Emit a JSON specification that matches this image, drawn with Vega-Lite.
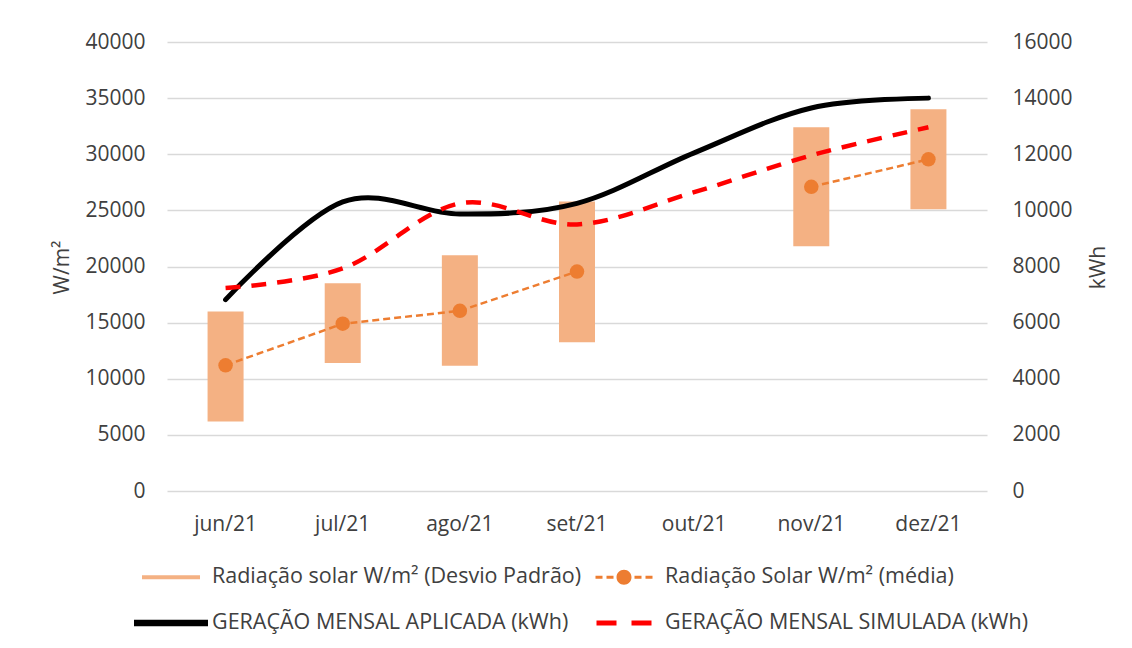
{
  "$schema": "https://vega.github.io/schema/vega-lite/v6.json",
  "autosize": "none",
  "width": 820,
  "height": 449,
  "padding": {"left": 167, "top": 42, "right": 145, "bottom": 157},
  "background": "white",
  "config": {
    "view": {"stroke": null},
    "font": "Open Sans",
    "axis": {"labelFont": "Open Sans", "titleFont": "Open Sans", "labelColor": "#404040", "titleColor": "#404040", "titleFontWeight": "normal", "domain": false, "ticks": false}
  },
  "data": {
    "values": [
      {"month": "jun/21", "lo": 6200, "hi": 16000, "media": 11200, "aplicada": 6820, "simulada": 7230},
      {"month": "jul/21", "lo": 11400, "hi": 18500, "media": 14900, "aplicada": 10300, "simulada": 7930},
      {"month": "ago/21", "lo": 11150, "hi": 21000, "media": 16050, "aplicada": 9870, "simulada": 10250},
      {"month": "set/21", "lo": 13250, "hi": 25800, "media": 19550, "aplicada": 10250, "simulada": 9500},
      {"month": "out/21", "lo": null, "hi": null, "media": null, "aplicada": 12050, "simulada": 10650},
      {"month": "nov/21", "lo": 21800, "hi": 32400, "media": 27100, "aplicada": 13650, "simulada": 11960},
      {"month": "dez/21", "lo": 25100, "hi": 34000, "media": 29550, "aplicada": 14000, "simulada": 12960}
    ]
  },
  "encoding": {
    "x": {
      "field": "month", "type": "nominal", "sort": null,
      "scale": {"type": "band", "paddingInner": 0, "paddingOuter": 0, "domain": ["jun/21", "jul/21", "ago/21", "set/21", "out/21", "nov/21", "dez/21"]},
      "axis": {"title": null, "labelAngle": 0, "labelFontSize": 21, "labelPadding": 22, "grid": false}
    }
  },
  "layer": [
    {
      "layer": [
        {
          "mark": {"type": "bar", "width": 36, "color": "#F4B183"},
          "encoding": {
            "y": {"field": "lo", "type": "quantitative", "scale": {"domain": [0, 40000], "nice": false},
              "axis": {"title": "W/m²", "values": [0, 5000, 10000, 15000, 20000, 25000, 30000, 35000, 40000], "format": "d", "labelFontSize": 21, "labelPadding": 22, "grid": true, "gridColor": "#D9D9D9", "gridWidth": 1.5, "titleFontSize": 21, "titleAngle": -90, "titleX": -95, "titleY": 225, "titleAlign": "center", "titleBaseline": "bottom"}},
            "y2": {"field": "hi"},
            "color": {
              "datum": "Radiação solar W/m² (Desvio Padrão)",
              "scale": {
                "domain": ["Radiação solar W/m² (Desvio Padrão)", "Radiação Solar W/m² (média)", "GERAÇÃO MENSAL APLICADA (kWh)", "GERAÇÃO MENSAL SIMULADA (kWh)"],
                "range": ["#F4B183", "#ED7D31", "#000000", "#FF0000"]
              },
              "legend": {
                "orient": "none", "legendX": -21, "legendY": 510, "columns": 2, "direction": "horizontal", "title": null,
                "symbolType": "stroke", "symbolSize": 2500, "symbolStrokeWidth": 0, "labelFontSize": 21.5, "labelFont": "Open Sans", "labelColor": "#404040",
                "labelLimit": 600, "columnPadding": 13, "rowPadding": 10, "padding": 0, "labelOffset": 16,
                "encode": {
                  "symbols": {
                    "update": {
                      "shape": {"signal": "['M-1.16,-0.08H1.16V0.08H-1.16Z', 'M-1.14,-0.06H-0.86V0.06H-1.14Z M-0.7,-0.06H-0.42V0.06H-0.7Z M0.42,-0.06H0.7V0.06H0.42Z M0.86,-0.06H1.14V0.06H0.86Z M-0.3,0A0.3,0.3,0,1,0,0.3,0A0.3,0.3,0,1,0,-0.3,0Z', 'M-1.48,-0.13H1.48V0.13H-1.48Z', 'M-1.1,-0.1H-0.3V0.1H-1.1Z M0.3,-0.1H1.1V0.1H0.3Z'][datum.index]"},
                      "fill": {"signal": "['#F8CBAD','#ED7D31','#000000','#FF0000'][datum.index]"},
                      "stroke": {"value": "transparent"},
                      "strokeWidth": {"value": 0},
                      "opacity": {"value": 1}
                    }
                  }
                }
              }
            }
          }
        },
        {
          "mark": {"type": "line", "strokeWidth": 2.5, "strokeDash": [7, 4]},
          "encoding": {
            "y": {"field": "media", "type": "quantitative"},
            "color": {"datum": "Radiação Solar W/m² (média)"}
          }
        },
        {
          "mark": {"type": "point", "filled": true, "size": 210, "opacity": 1},
          "encoding": {
            "y": {"field": "media", "type": "quantitative"},
            "color": {"datum": "Radiação Solar W/m² (média)"}
          }
        }
      ]
    },
    {
      "layer": [
        {
          "mark": {"type": "line", "strokeWidth": 5, "interpolate": "cardinal", "tension": 0, "strokeCap": "round"},
          "encoding": {
            "y": {"field": "aplicada", "type": "quantitative", "scale": {"domain": [0, 16000], "nice": false},
              "axis": {"orient": "right", "title": "kWh", "values": [0, 2000, 4000, 6000, 8000, 10000, 12000, 14000, 16000], "format": "d", "labelFontSize": 21, "labelPadding": 25, "grid": false, "titleFontSize": 21, "titleAngle": -90, "titleX": 121, "titleY": 225, "titleAlign": "center", "titleBaseline": "bottom"}},
            "color": {"datum": "GERAÇÃO MENSAL APLICADA (kWh)"}
          }
        },
        {
          "mark": {"type": "line", "strokeWidth": 4.5, "interpolate": "cardinal", "tension": 0, "strokeDash": [15, 11]},
          "encoding": {
            "y": {"field": "simulada", "type": "quantitative"},
            "color": {"datum": "GERAÇÃO MENSAL SIMULADA (kWh)"}
          }
        }
      ]
    }
  ],
  "resolve": {"scale": {"y": "independent"}}
}
